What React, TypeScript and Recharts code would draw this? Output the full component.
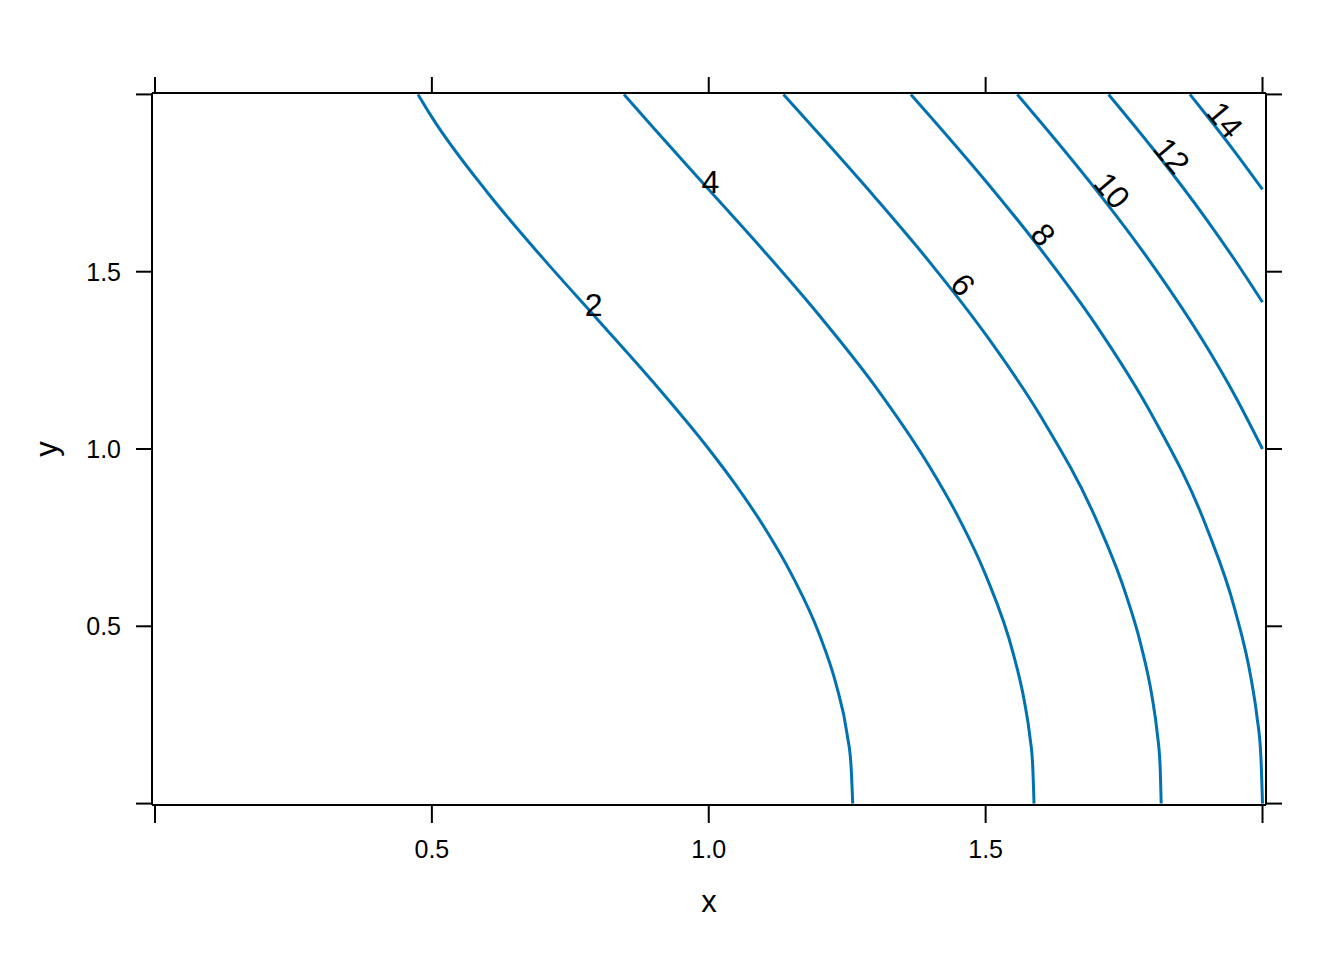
import React from 'react';
import {
  ComposedChart,
  Line,
  XAxis,
  YAxis,
  ReferenceDot,
} from 'recharts';

// contour levels of z as [x, y] pairs
const level2: [number, number][] = [
  [0.475, 2.0], [0.5, 1.936], [0.6, 1.724], [0.7, 1.539], [0.8, 1.364], [0.9, 1.188],
  [1.0, 1.0], [1.05, 0.896], [1.1, 0.78], [1.15, 0.645], [1.2, 0.476], [1.23, 0.336],
  [1.25, 0.194], [1.257, 0.105], [1.26, 0],
];
const level4: [number, number][] = [
  [0.847, 2.0], [0.9, 1.906], [1.0, 1.732], [1.1, 1.558], [1.2, 1.376], [1.3, 1.178],
  [1.4, 0.947], [1.45, 0.81], [1.5, 0.645], [1.55, 0.422], [1.57, 0.288], [1.58, 0.188],
  [1.585, 0.107], [1.5874, 0],
];
const level6: [number, number][] = [
  [1.135, 2.0], [1.2, 1.887], [1.3, 1.71], [1.4, 1.525], [1.5, 1.323], [1.6, 1.091],
  [1.7, 0.8], [1.75, 0.605], [1.78, 0.45], [1.8, 0.306], [1.81, 0.197], [1.815, 0.108],
  [1.817, 0],
];
const level8: [number, number][] = [
  [1.365, 2.0], [1.4, 1.938], [1.5, 1.756], [1.6, 1.562], [1.7, 1.348], [1.8, 1.097],
  [1.9, 0.775], [1.95, 0.548], [1.98, 0.347], [1.99, 0.245], [1.997, 0.134], [2.0, 0],
];
const level10: [number, number][] = [
  [1.557, 2.0], [1.6, 1.921], [1.7, 1.73], [1.8, 1.522], [1.9, 1.286], [1.95, 1.151], [2.0, 1.0],
];
const level12: [number, number][] = [
  [1.722, 2.0], [1.8, 1.851], [1.9, 1.645], [1.95, 1.533], [2.0, 1.414],
];
const level14: [number, number][] = [
  [1.869, 2.0], [1.9, 1.939], [1.95, 1.838], [2.0, 1.732],
];

const contours = [level2, level4, level6, level8, level10, level12, level14];

// contour labels: text, position, rotation
const labelText = ['2', '4', '6', '8', '10', '12', '14'];
const labelX = [0.792, 1.003, 1.459, 1.604, 1.728, 1.836, 1.932];
const labelY = [1.406, 1.753, 1.463, 1.604, 1.729, 1.827, 1.928];
const labelAngle = [0, 0, 50, 50, 50, 50, 50];

const xTicks = [0, 0.5, 1, 1.5, 2];
const yTicks = [0, 0.5, 1, 1.5, 2];
const tickLabels: Record<number, string> = { 0.5: '0.5', 1: '1.0', 1.5: '1.5' };

const LINE_COLOR = '#0072B2';
const FONT = '"Liberation Sans", Arial, sans-serif';
const TICK_LEN = 16;

const toSeries = (pts: [number, number][]) => pts.map(([x, y]) => ({ x, y }));

const BottomTick = (props: any) => {
  const { x, y, payload } = props;
  const label = tickLabels[payload.value];
  return (
    <g>
      <line x1={x} x2={x} y1={y} y2={y + TICK_LEN + 2} stroke="#000" strokeWidth={2} />
      {label && (
        <text x={x} y={y + 53} textAnchor="middle" fontSize={25} fontFamily={FONT} fill="#000">
          {label}
        </text>
      )}
    </g>
  );
};

const TopTick = (props: any) => {
  const { x, y } = props;
  return <line x1={x} x2={x} y1={y} y2={y - TICK_LEN} stroke="#000" strokeWidth={2} />;
};

const LeftTick = (props: any) => {
  const { x, y, payload } = props;
  const label = tickLabels[payload.value];
  return (
    <g>
      <line x1={x} x2={x - TICK_LEN} y1={y} y2={y} stroke="#000" strokeWidth={2} />
      {label && (
        <text x={x - 31} y={y} textAnchor="end" dominantBaseline="central" fontSize={25} fontFamily={FONT} fill="#000">
          {label}
        </text>
      )}
    </g>
  );
};

const RightTick = (props: any) => {
  const { x, y } = props;
  return <line x1={x} x2={x + TICK_LEN} y1={y} y2={y} stroke="#000" strokeWidth={2} />;
};

const ContourLabel = (angle: number, text: string) => (props: any) => {
  const { cx, cy } = props;
  return (
    <text
      x={cx}
      y={cy}
      textAnchor="middle"
      dominantBaseline="central"
      fontSize={32}
      fontFamily={FONT}
      fill="#000"
      transform={angle ? `rotate(${angle} ${cx} ${cy})` : undefined}
    >
      {text}
    </text>
  );
};

const axisLine = { stroke: '#000', strokeWidth: 2 };

export default function App() {
  return (
    <div style={{ position: 'absolute', left: 0, top: 0, background: '#fff' }}>
      <ComposedChart
        width={1344}
        height={960}
        margin={{ top: 92, right: 77, bottom: 154, left: 151 }}
      >
        <XAxis
          xAxisId="bottom"
          type="number"
          dataKey="x"
          domain={[-0.0054, 2.0063]}
          ticks={xTicks}
          interval={0}
          height={1}
          tickSize={0}
          tickMargin={0}
          tickLine={false}
          axisLine={axisLine}
          tick={BottomTick}
          label={() => (
            <text x={709} y={912} textAnchor="middle" fontSize={31} fontFamily={FONT} fill="#000">
              x
            </text>
          )}
        />
        <XAxis
          xAxisId="top"
          orientation="top"
          type="number"
          dataKey="x"
          domain={[-0.0054, 2.0063]}
          allowDataOverflow
          ticks={xTicks}
          interval={0}
          height={1}
          tickSize={0}
          tickMargin={0}
          tickLine={false}
          axisLine={axisLine}
          tick={TopTick}
        />
        <YAxis
          yAxisId="left"
          type="number"
          dataKey="y"
          domain={[-0.004, 2.004]}
          ticks={yTicks}
          interval={0}
          width={1}
          tickSize={0}
          tickMargin={0}
          tickLine={false}
          axisLine={axisLine}
          tick={LeftTick}
          label={() => (
            <text
              x={57}
              y={449}
              textAnchor="middle"
              fontSize={31}
              fontFamily={FONT}
              fill="#000"
              transform="rotate(-90 57 449)"
            >
              y
            </text>
          )}
        />
        <YAxis
          yAxisId="right"
          orientation="right"
          type="number"
          dataKey="y"
          domain={[-0.004, 2.004]}
          allowDataOverflow
          ticks={yTicks}
          interval={0}
          width={1}
          tickSize={0}
          tickMargin={0}
          tickLine={false}
          axisLine={axisLine}
          tick={RightTick}
        />
        {/* invisible copy so the top/right axes have a series bound to them */}
        <Line
          xAxisId="top"
          yAxisId="right"
          data={toSeries(level14)}
          dataKey="y"
          stroke="none"
          dot={false}
          activeDot={false}
          legendType="none"
          isAnimationActive={false}
        />
        {contours.map((pts, i) => (
          <Line
            key={labelText[i]}
            xAxisId="bottom"
            yAxisId="left"
            data={toSeries(pts)}
            dataKey="y"
            type="monotone"
            stroke={LINE_COLOR}
            strokeWidth={3}
            dot={false}
            activeDot={false}
            isAnimationActive={false}
          />
        ))}
        {labelText.map((t, i) => (
          <ReferenceDot
            key={'lab' + t}
            xAxisId="bottom"
            yAxisId="left"
            x={labelX[i]}
            y={labelY[i]}
            r={0}
            shape={ContourLabel(labelAngle[i], t)}
          />
        ))}
      </ComposedChart>
    </div>
  );
}
